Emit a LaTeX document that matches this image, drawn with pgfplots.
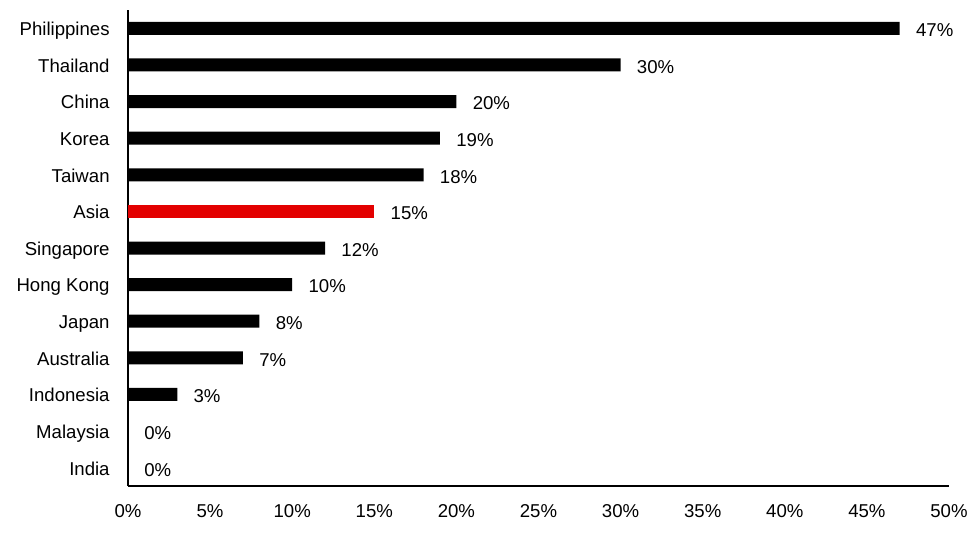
\documentclass[border=0pt]{standalone}
\usepackage{pgfplots}
\pgfplotsset{compat=1.18}
\usepackage{fontspec}
\setmainfont{Liberation Sans}
\definecolor{barred}{HTML}{E30000}
\begin{document}
\begin{tikzpicture}
\begin{axis}[
  scale only axis,
  width=410.5pt, height=238pt,
  xmin=0, xmax=50, ymin=-0.5, ymax=12.5,
  xbar, bar width=6.5pt,
  axis x line*=bottom, axis y line*=left,
  axis line style={line width=0.8pt, black},
  xtick={0,5,...,50},
  ytick={0,...,12},
  yticklabels={India,Malaysia,Indonesia,Australia,Japan,Hong Kong,Singapore,Asia,Taiwan,Korea,China,Thailand,Philippines},
  major tick length=0pt,
  tick label style={font=\fontsize{9.3}{11}\selectfont, inner sep=0pt},
  xticklabel={\pgfmathprintnumber[assume math mode=true]{\tick}\%},
  xticklabel style={anchor=north, yshift=-9pt},
  yticklabel style={anchor=east, xshift=-9pt, text height=6.7pt, text depth=0pt, yshift=-0.3pt},
  nodes near coords={\pgfmathprintnumber[assume math mode=true]{\pgfplotspointmeta}\%},
  point meta=x,
  every node near coord/.append style={anchor=west, inner sep=0pt, xshift=8pt, text height=6.7pt, text depth=0pt, yshift=-0.8pt, font=\fontsize{9.3}{11}\selectfont, black},
]
\addplot[fill=black, draw=none, bar shift=0pt] coordinates {
(0,0) (0,1) (3,2) (7,3) (8,4) (10,5) (12,6) (18,8) (19,9) (20,10) (30,11) (47,12)};
\addplot[fill=barred, draw=none, bar shift=0pt] coordinates {(15,7)};
\end{axis}
\path[use as bounding box] (-64pt,-26pt) rectangle (424pt,243pt);
\end{tikzpicture}
\end{document}
